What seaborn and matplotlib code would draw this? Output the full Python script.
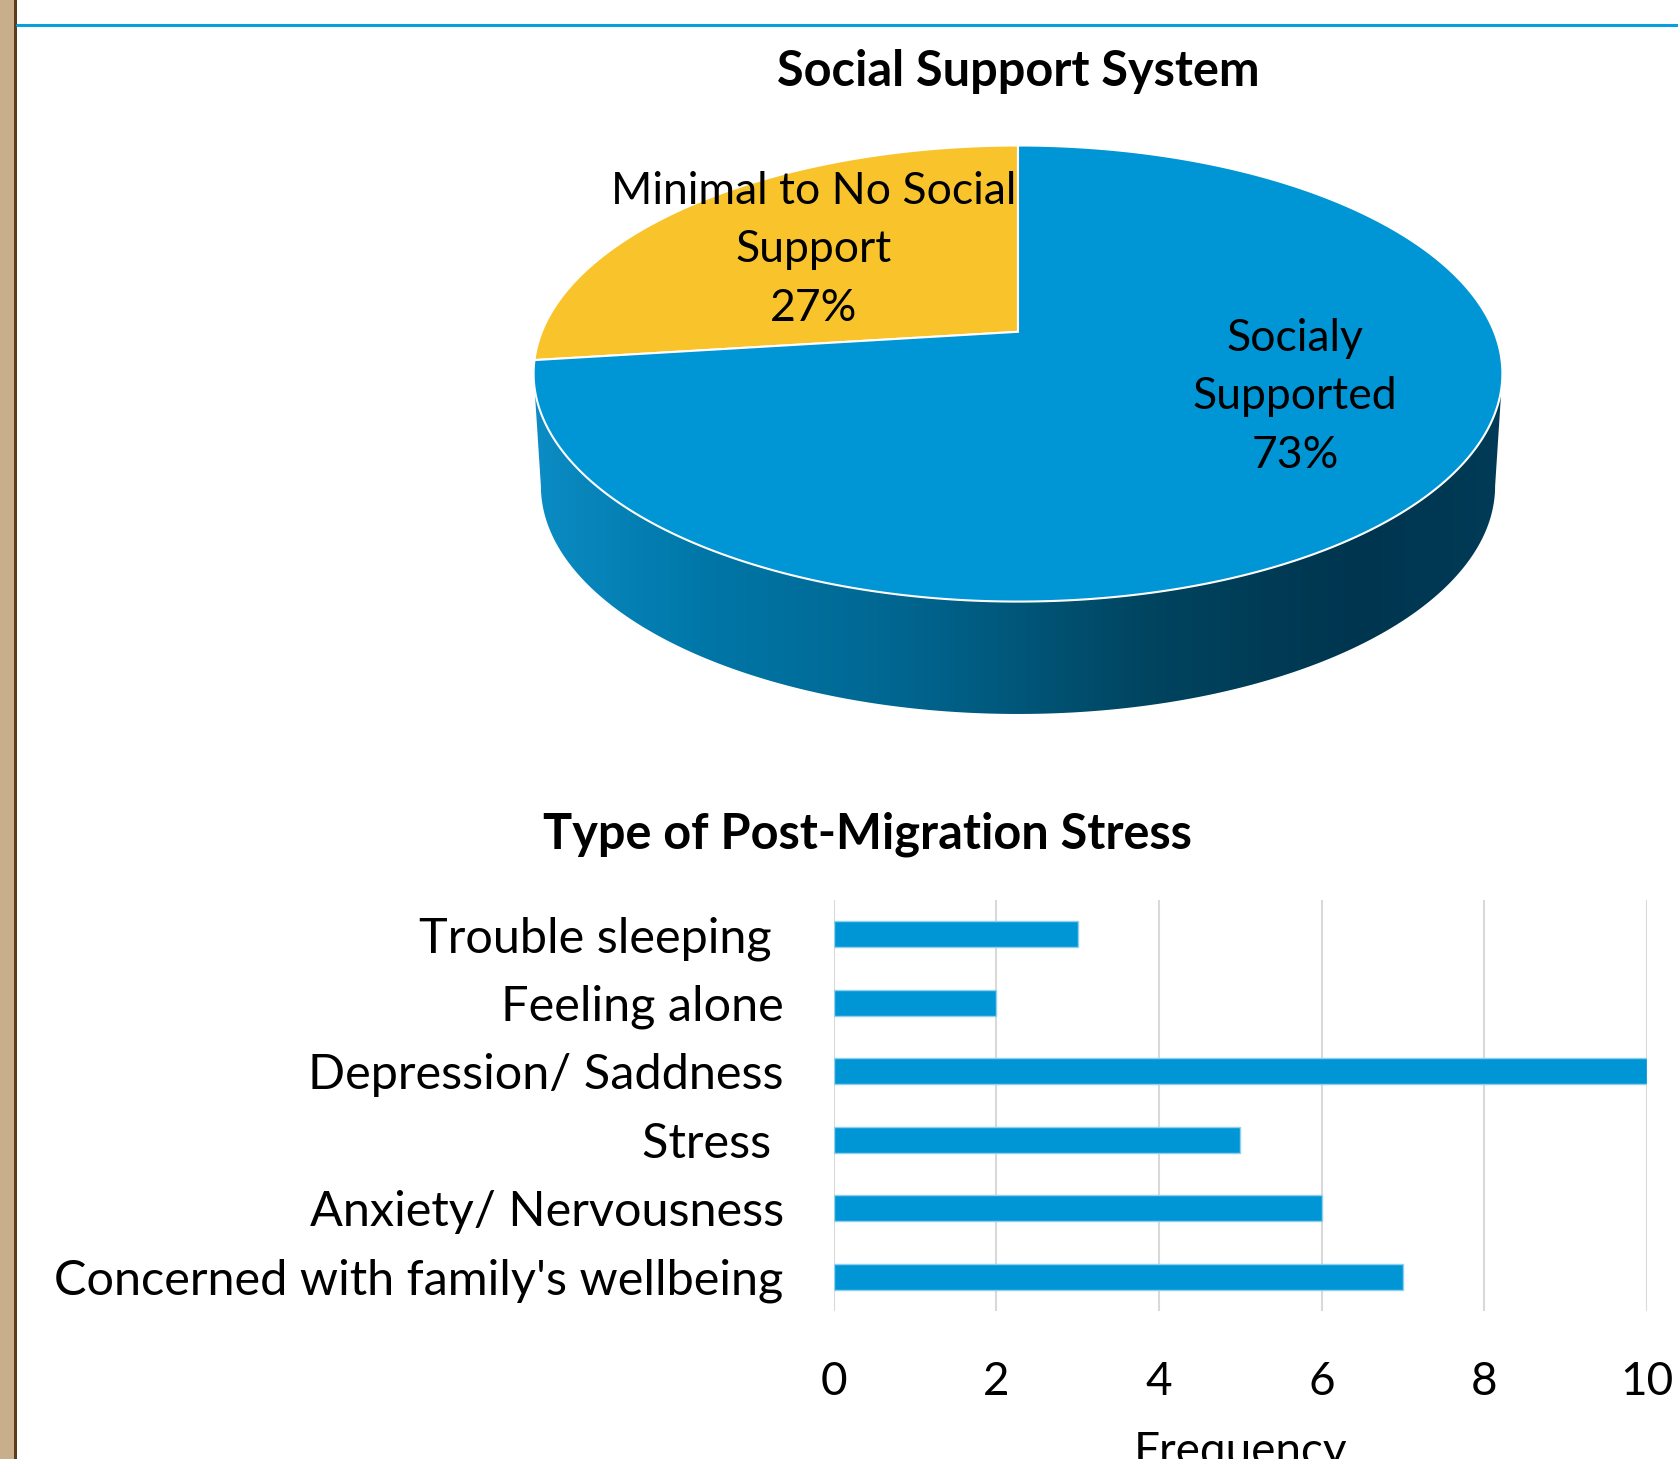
import numpy as np
import pandas as pd
import matplotlib
matplotlib.use("Agg")
import matplotlib.pyplot as plt
import seaborn as sns
from matplotlib.patches import Rectangle, Polygon
from matplotlib.colors import LinearSegmentedColormap
from matplotlib.lines import Line2D
from matplotlib.path import Path
from matplotlib.transforms import Transform

# ---------------- data ----------------
pie_title = "Social Support System"
pie_labels = ["Minimal to No Social\nSupport", "Socialy\nSupported"]
pie_values = [27, 73]
pie_colors = ["#F9C42B", "#0095D5"]

bar_title = "Type of Post-Migration Stress"
stress_categories = ["Trouble sleeping ", "Feeling alone", "Depression/ Saddness",
                     "Stress ", "Anxiety/ Nervousness", "Concerned with family's wellbeing"]
stress_values = [3, 2, 10, 5, 6, 7]
x_ticks = [0, 2, 4, 6, 8, 10]
x_label = "Frequency"

# ---------------- style ----------------
sns.set_theme(style="white")
plt.rcParams["font.family"] = ["Lato", "DejaVu Sans"]

W, H = 1678, 1459
fig = plt.figure(figsize=(W / 100, H / 100), dpi=100)


def fx(px):
    return px / W


def fy(py):
    return 1 - py / H


# page decorations
fig.patches.append(Rectangle((0, 0), fx(14), 1, transform=fig.transFigure,
                             facecolor="#C8AE8A", edgecolor="none"))
fig.patches.append(Rectangle((fx(14), 0), fx(3), 1, transform=fig.transFigure,
                             facecolor="#5B3A1E", edgecolor="none"))
fig.lines.append(Line2D([fx(17), 1], [fy(25), fy(25)], transform=fig.transFigure,
                        color="#0A9EDC", linewidth=2.2))


# ---------------- 3D pie (perspective projection of a tilted disk) ----------------
class Perspective(Transform):
    input_dims = output_dims = 2
    is_separable = False
    has_inverse = False

    def __init__(self, sx, sy, c):
        super().__init__()
        self.sx, self.sy, self.c = sx, sy, c

    def transform_non_affine(self, xy):
        xy = np.asarray(xy, dtype=float)
        w = 1 + self.c * xy[:, 1]
        return np.column_stack([self.sx * xy[:, 0] / w, self.sy * xy[:, 1] / w])

    def transform_path_non_affine(self, path):
        pts = []
        for seg, code in path.iter_bezier():
            if seg.degree == 0:
                pts.append(seg.control_points)
            else:
                n = 2 if seg.degree == 1 else 60
                pts.append(seg(np.linspace(0, 1, n)))
        v = np.vstack(pts)
        v = np.vstack([v, v[:1]])
        return Path(self.transform_non_affine(v), closed=True)


SX, SY, C = 476.2, 220.4, 0.183   # projection of the unit disk, in pixels
DEPTH = 112.4
apex_x, apex_y = 1018, 331.8
persp = Perspective(SX, SY, C)

top_Y = SY / (1 + C)
bot_Y = -SY / (1 - C)
half_w = SX / np.sqrt(1 - C ** 2)
m = 12
ax_pie = fig.add_axes([fx(apex_x - half_w - m), fy(apex_y - bot_Y + DEPTH + m),
                       (2 * half_w + 2 * m) / W, (top_Y - bot_Y + DEPTH + 2 * m) / H])

# side rim
t = np.linspace(np.pi + np.arcsin(C), 2 * np.pi - np.arcsin(C), 300)
rim = persp.transform_non_affine(np.c_[np.cos(t), np.sin(t)])
low = rim.copy()
low[:, 0] *= 0.985
low[:, 1] -= DEPTH
side_patch = Polygon(np.vstack([rim, low[::-1]]), closed=True, facecolor="none", edgecolor="none")
ax_pie.add_patch(side_patch)
side_cmap = LinearSegmentedColormap.from_list(
    "side", [(0.0, "#0B8CC4"), (0.17, "#0077A8"), (0.38, "#006690"),
             (0.64, "#00445F"), (0.85, "#00354F"), (1.0, "#003B57")])
grad = np.linspace(0, 1, 256).reshape(1, -1)
im = ax_pie.imshow(grad, cmap=side_cmap, extent=[-half_w, half_w, bot_Y - DEPTH, 0],
                   aspect="auto", zorder=0.5)
im.set_clip_path(side_patch)

wedges, _ = ax_pie.pie(pie_values, colors=pie_colors, startangle=90, counterclock=True,
                       wedgeprops=dict(edgecolor="white", linewidth=1.5, zorder=2))
for w_ in wedges:
    w_.set_transform(persp + ax_pie.transData)
ax_pie.set_aspect("auto")
ax_pie.set_xlim(-half_w - m, half_w + m)
ax_pie.set_ylim(bot_Y - DEPTH - m, top_Y + m)
ax_pie.axis("off")

label_pos = [(-204, 82.0), (277, -65.0)]
for (lx, ly), lab, val in zip(label_pos, pie_labels, pie_values):
    ax_pie.text(lx, ly, f"{lab}\n{val}%", ha="center", va="center", fontsize=32,
                linespacing=1.53, color="black", zorder=5)

fig.text(fx(1018), fy(72), pie_title, ha="center", va="center", fontsize=35,
         fontweight="bold", color="black")

# ---------------- bars ----------------
ax_bar = fig.add_axes([fx(833.7), fy(1311), (1647 - 833.7) / W, 411 / H])
df = pd.DataFrame({"category": stress_categories, "value": stress_values})
sns.barplot(data=df, x="value", y="category", orient="h", color="#0096D6",
            width=0.375, saturation=1, edgecolor="#8FD0EE", linewidth=1, ax=ax_bar)
ax_bar.set_xlim(0, 10)
ax_bar.set_xticks(x_ticks)
ax_bar.set_xticklabels([str(v) for v in x_ticks])
ax_bar.xaxis.grid(True, color="#D9D9D9", linewidth=1.5)
ax_bar.set_axisbelow(True)
for s in ax_bar.spines.values():
    s.set_visible(False)
ax_bar.tick_params(axis="x", length=0, labelsize=33, colors="black", pad=36)
ax_bar.tick_params(axis="y", length=0, labelsize=35, colors="black", pad=36)
ax_bar.set_ylabel("")
ax_bar.set_xlabel(x_label, fontsize=33, labelpad=20, color="black")

fig.text(fx(867), fy(834), bar_title, ha="center", va="center", fontsize=35,
         fontweight="bold", color="black")

fig.savefig("out.png", dpi=100, facecolor="white")
